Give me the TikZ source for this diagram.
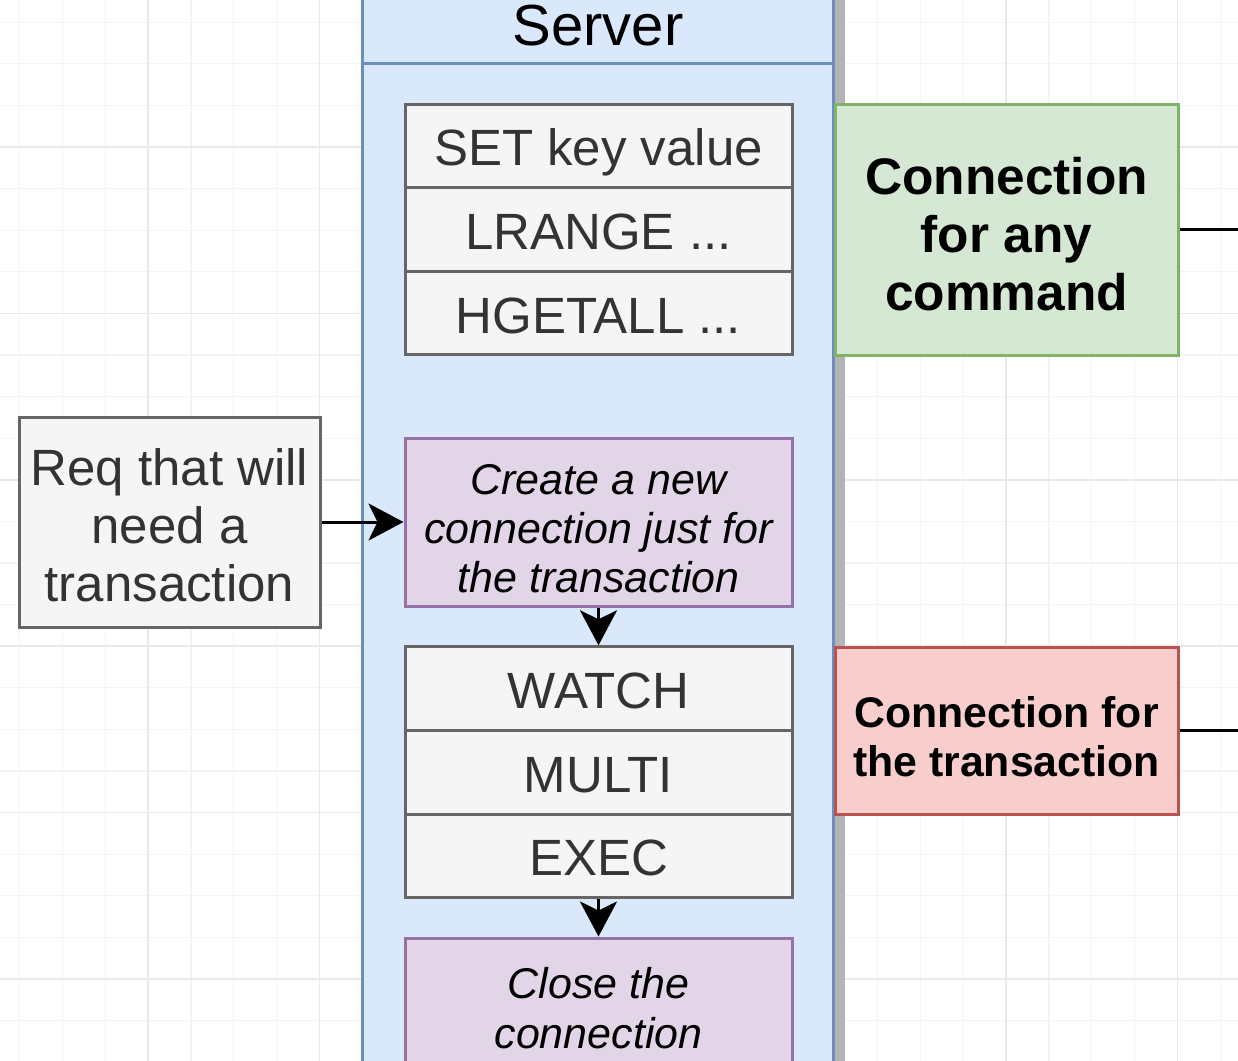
\documentclass[tikz,border=0pt]{standalone}
\usepackage{fontspec}
\setmainfont{Liberation Sans}
\usetikzlibrary{arrows.meta}
\definecolor{srvfill}{HTML}{DAE8FC}
\definecolor{srvline}{HTML}{6C8EBF}
\definecolor{grayfill}{HTML}{F5F5F5}
\definecolor{grayline}{HTML}{666666}
\definecolor{graytext}{HTML}{333333}
\definecolor{purfill}{HTML}{E1D5E7}
\definecolor{purline}{HTML}{9673A6}
\definecolor{grnfill}{HTML}{D5E8D4}
\definecolor{grnline}{HTML}{82B366}
\definecolor{redfill}{HTML}{F8CECC}
\definecolor{redline}{HTML}{B85450}
\definecolor{gridminor}{HTML}{F4F4F4}
\definecolor{gridmajor}{HTML}{E9E9E9}
\definecolor{shadowc}{HTML}{B4B4B4}
\tikzset{
  gridmin/.style={draw=gridminor, line width=0.6pt},
  gridmaj/.style={draw=gridmajor, line width=0.8pt},
  cmdrow/.style={draw=grayline, fill=grayfill, line width=1.5pt, text=graytext,
    minimum width=193.5pt, minimum height=41.8pt, inner sep=0pt,
    text height=20pt, text depth=0pt,
    font=\fontsize{25.5}{29}\selectfont},
  purbox/.style={draw=purline, fill=purfill, line width=1.5pt,
    minimum width=193.5pt, inner sep=0pt},
  purtext/.style={align=center, inner sep=0pt, font=\fontsize{21.5}{24.5}\selectfont\itshape},
  reqbox/.style={draw=grayline, fill=grayfill, line width=1.5pt,
    minimum width=150.5pt, minimum height=105pt, inner sep=0pt},
  reqtext/.style={text=graytext, align=center, inner sep=0pt,
    font=\fontsize{25.5}{29}\selectfont},
  connbox/.style={line width=1.5pt, minimum width=171.5pt, inner sep=0pt},
  conntext/.style={align=center, inner sep=0pt},
  arr/.style={line width=1.5pt, -{Stealth[length=17.5pt, width=18.5pt, inset=4.5pt]}},
  plainline/.style={line width=1.5pt}
}
\begin{document}
\begin{tikzpicture}[x=0.5pt,y=-0.5pt]
\useasboundingbox (0,0) rectangle (1238,1061);
\begin{scope}
\clip (0,0) rectangle (1238,1061);
\fill[white] (0,0) rectangle (1238,1061);
% grid
\foreach \i in {-4,...,25} {
  \pgfmathsetmacro\gx{148+42.9*\i}
  \draw[gridmin] (\gx,0) -- (\gx,1061);
}
\foreach \i in {-4,...,22} {
  \pgfmathsetmacro\gy{147+41.6*\i}
  \draw[gridmin] (0,\gy) -- (1238,\gy);
}
\foreach \i in {0,4,...,24} {
  \pgfmathsetmacro\gx{148+42.9*\i}
  \draw[gridmaj] (\gx,0) -- (\gx,1061);
}
\foreach \i in {0,4,...,20} {
  \pgfmathsetmacro\gy{147+41.6*\i}
  \draw[gridmaj] (0,\gy) -- (1238,\gy);
}
% server swimlane with shadow
\fill[shadowc] (834,-20) rectangle (845,1120);
\draw[draw=srvline, fill=srvfill, line width=1.5pt] (362,-12) rectangle (833,1120);
\draw[draw=srvline, line width=1.5pt] (362,63) -- (833,63);
\node[font=\fontsize{29}{32}\selectfont, inner sep=0pt] (srvtitle) at (598,26) {Server};
% first command stack
\node[cmdrow] (set) at (598.5,145.8) {SET key value};
\node[cmdrow] (lrange) at (598.5,229.4) {LRANGE ...};
\node[cmdrow] (hgetall) at (598.5,313) {HGETALL ...};
% create connection
\node[purbox, minimum height=84pt] (create) at (598.5,522) {};
\node[purtext, yshift=-3.5pt] (createtxt) at (create.center) {Create a new\\connection just for\\the transaction};
% second command stack
\node[cmdrow] (watch) at (598.5,688.6) {WATCH};
\node[cmdrow] (multi) at (598.5,772.2) {MULTI};
\node[cmdrow] (exec) at (598.5,855.8) {EXEC};
% close connection
\node[purbox, minimum height=70pt] (close) at (598.5,1008) {};
\node[purtext, font=\fontsize{21.5}{25}\selectfont\itshape] (closetxt) at (close.center) {Close the\\connection};
% request box
\node[reqbox] (req) at (169.5,522) {};
\node[reqtext, yshift=-1.5pt] (reqtxt) at (req.center) {Req that will\\need a\\transaction};
% connection boxes
\node[connbox, draw=grnline, fill=grnfill, minimum height=125.5pt] (anycmd) at (1006.5,229.5) {};
\node[conntext, yshift=-2.5pt, font=\fontsize{25.7}{29}\selectfont\bfseries] (anycmdtxt) at (anycmd.center) {Connection\\for any\\command};
\node[connbox, draw=redline, fill=redfill, minimum height=83.5pt] (txconn) at (1006.5,730.5) {};
\node[conntext, yshift=-3pt, font=\fontsize{21.4}{24.5}\selectfont\bfseries] (txconntxt) at (txconn.center) {Connection for\\the transaction};
% connectors
\draw[arr] (req.east) -- (create.west);
\draw[arr] (create.south) -- (watch.north);
\draw[arr] (exec.south) -- (close.north);
\coordinate (anyend) at (1240,229.5);
\coordinate (txend) at (1240,730.5);
\draw[plainline] (anycmd.east) -- (anyend);
\draw[plainline] (txconn.east) -- (txend);
\end{scope}
\end{tikzpicture}
\end{document}
